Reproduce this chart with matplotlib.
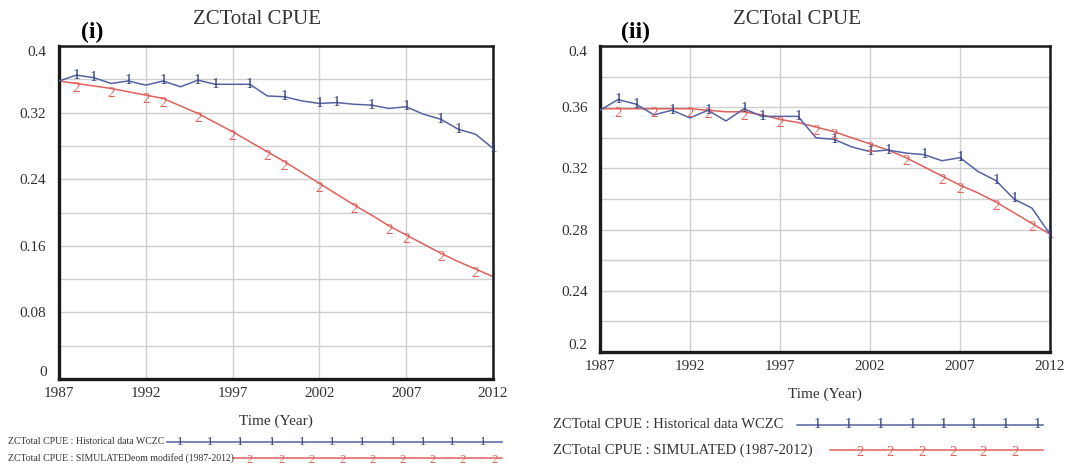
import matplotlib
matplotlib.use("Agg")
import matplotlib.pyplot as plt
import numpy as np

# === Data ===
years = np.arange(1987, 2013)

historical = [0.358, 0.365, 0.362, 0.355, 0.358, 0.353, 0.358, 0.351, 0.359, 0.354,
              0.354, 0.354, 0.340, 0.339, 0.334, 0.331, 0.332, 0.330, 0.329, 0.325,
              0.327, 0.318, 0.312, 0.300, 0.294, 0.277]

# (i) original model run
sim_old = [0.358, 0.355, 0.352, 0.349, 0.345, 0.341, 0.337, 0.328, 0.319, 0.308,
           0.297, 0.285, 0.273, 0.261, 0.248, 0.235, 0.222, 0.209, 0.197, 0.184,
           0.173, 0.162, 0.151, 0.141, 0.132, 0.123]

# (ii) modified model run
sim_new = [0.359, 0.359, 0.359, 0.359, 0.359, 0.359, 0.358, 0.357, 0.357, 0.355,
           0.352, 0.350, 0.347, 0.344, 0.340, 0.336, 0.332, 0.327, 0.321, 0.315,
           0.309, 0.304, 0.298, 0.291, 0.284, 0.277]

# years where the plotting tool put its "1" / "2" line markers
marker_years_1 = [1988, 1989, 1991, 1993, 1995, 1996, 1998, 2000, 2002, 2003,
                  2005, 2007, 2009, 2010, 2012]
marker_years_2 = [1988, 1990, 1992, 1993, 1995, 1997, 1999, 2000, 2002, 2004,
                  2006, 2007, 2009, 2011]

panels = [
    {"tag": "(i)", "sim": sim_old, "ylim": (0, 0.4), "major": 0.08, "minor": 0.04,
     "leg1": "ZCTotal CPUE : Historical data WCZC",
     "leg2": "ZCTotal CPUE : SIMULATEDeom modifed (1987-2012)"},
    {"tag": "(ii)", "sim": sim_new, "ylim": (0.2, 0.4), "major": 0.04, "minor": 0.02,
     "leg1": "ZCTotal CPUE : Historical data WCZC",
     "leg2": "ZCTotal CPUE : SIMULATED (1987-2012)"},
]

BLUE = "#5563a3"
BLUE_MK = "#2d3a7a"
RED = "#e0605c"
SERIF = "Liberation Serif"

W, H = 1073, 466
fig = plt.figure(figsize=(W / 100, H / 100), dpi=100)
plt.rcParams["font.family"] = SERIF

# axes boxes in pixels: left, top, right, bottom
boxes = [(59, 46, 493, 379), (600, 46, 1050, 352)]


def px_box(b):
    l, t, r, btm = b
    return [l / W, 1 - btm / H, (r - l) / W, (btm - t) / H]


for p, b in zip(panels, boxes):
    ax = fig.add_axes(px_box(b))
    lo, hi = p["ylim"]
    ax.set_xlim(1987, 2012)
    ax.set_ylim(lo, hi)

    ax.plot(years, historical, color=BLUE, lw=1.1, zorder=3)
    ax.plot(years, p["sim"], color=RED, lw=1.1, zorder=2)

    hist = dict(zip(years, historical))
    sim = dict(zip(years, p["sim"]))
    dy = (hi - lo) * 0.014
    for yr in marker_years_1:
        ax.text(yr, hist[yr], "1", color=BLUE_MK, fontsize=11, ha="center",
                va="center", zorder=4)
    for yr in marker_years_2:
        ax.text(yr, sim[yr] - dy, "2", color=RED, fontsize=11, ha="center",
                va="center", zorder=4)

    ax.set_xticks(np.arange(1987, 2013, 5))
    ax.set_yticks(np.round(np.arange(lo, hi + 1e-9, p["major"]), 2))
    ax.set_yticks(np.arange(lo, hi + 1e-9, p["minor"]), minor=True)
    ax.set_yticklabels([f"{v:g}" for v in ax.get_yticks()])
    ax.tick_params(length=0, which="both", labelsize=11, labelcolor="#333333")
    ax.tick_params(axis="y", pad=9)
    ax.tick_params(axis="x", pad=6)
    ylabels = ax.get_yticklabels()
    ylabels[0].set_va("bottom")
    ylabels[-1].set_va("top")

    ax.grid(True, which="both", color="#cfcfcf", lw=1)
    ax.set_axisbelow(True)
    for side in ["left", "bottom"]:
        ax.spines[side].set_linewidth(2.4)
    for side in ["top", "right"]:
        ax.spines[side].set_linewidth(1.8)
    for s in ax.spines.values():
        s.set_color("#1a1a1a")

    ax.set_xlabel("Time (Year)", fontsize=11, color="#333333", labelpad=10)

# overlay in pixel coordinates for titles and legends
ov = fig.add_axes([0, 0, 1, 1])
ov.set_xlim(0, W)
ov.set_ylim(H, 0)
ov.axis("off")

ov.text(257, 19, "ZCTotal CPUE", fontsize=15, ha="center", va="center", color="#333333")
ov.text(797, 19, "ZCTotal CPUE", fontsize=15, ha="center", va="center", color="#333333")
ov.text(92, 32, "(i)", fontsize=17, fontweight="bold", ha="center", va="center")
ov.text(635, 32, "(ii)", fontsize=17, fontweight="bold", ha="center", va="center")

# legend rows: text x, row y, line start, line end, marker xs, text size, marker size
legend_rows = [
    (8, 442, 167, 502, [180, 210, 240, 272, 302, 332, 362, 393, 423, 452, 483],
     panels[0]["leg1"], BLUE, BLUE_MK, "1", 7, 9),
    (8, 458, 233, 502, [250, 282, 312, 343, 373, 403, 433, 463, 495],
     panels[0]["leg2"], RED, RED, "2", 7, 9),
    (553, 425, 797, 1043, [817, 848, 880, 912, 943, 973, 1005, 1037],
     panels[1]["leg1"], BLUE, BLUE_MK, "1", 10.5, 10.5),
    (553, 450, 830, 1043, [860, 890, 922, 953, 983, 1015],
     panels[1]["leg2"], RED, RED, "2", 10.5, 10.5),
]
for tx, ty, x0, x1, mks, label, lc, mc, ch, fs, ms in legend_rows:
    ov.text(tx, ty, label, fontsize=fs, ha="left", va="center", color="#333333")
    ov.plot([x0, x1], [ty, ty], color=lc, lw=1.1)
    for mx in mks:
        ov.text(mx, ty + (2 if ch == "2" else 0), ch, color=mc, fontsize=ms,
                ha="center", va="center")

fig.savefig("out.png", dpi=100)
